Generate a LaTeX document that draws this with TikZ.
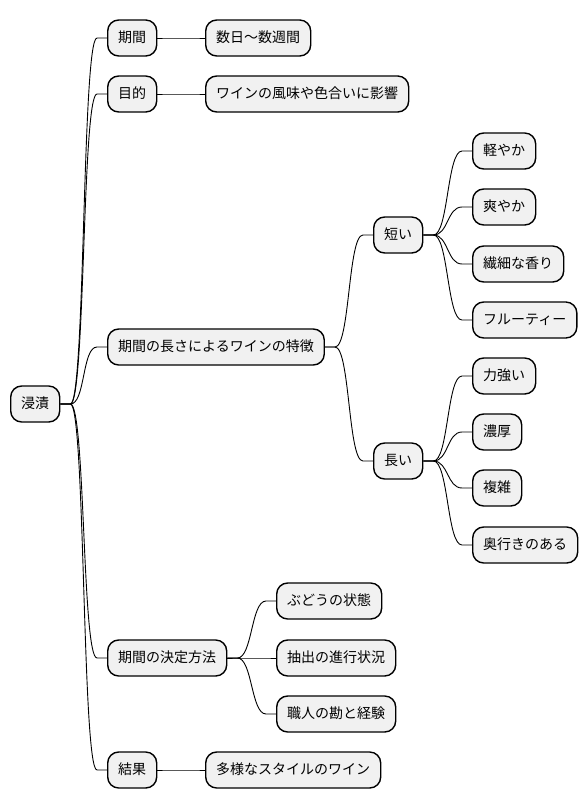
\documentclass[tikz,border=0pt]{standalone}
\usepackage{fontspec}
\setmainfont{Noto Sans CJK JP}
\usetikzlibrary{calc}
\tikzset{
  mmbox/.style={draw=black, line width=1.4pt, fill=boxgray, rounded corners=11pt,
    anchor=west, minimum height=36pt, inner xsep=10.5pt, inner ysep=0pt,
    text height=11pt, text depth=3pt, font=\fontsize{14}{16}\selectfont},
  mmline/.style={draw=black, line width=0.9pt}
}
\definecolor{boxgray}{HTML}{F1F1F1}
\newcommand\mmlink[2]{%
  \draw[mmline] (#1.east) -- ($(#1.east)+(10,0)$)
    .. controls +(15,0) and +(-15,0)
    .. ($(#2.west)+(-10,0)$) -- (#2.west);}
\begin{document}
\begin{tikzpicture}[x=1pt,y=-1pt]
\useasboundingbox[fill=white] (0,0) rectangle (586,809);
\node[mmbox] (root) at (10,404) {浸漬};
\node[mmbox] (kikan) at (107,38) {期間};
\node[mmbox] (suu) at (205,38) {数日〜数週間};
\node[mmbox] (mok) at (107,94) {目的};
\node[mmbox] (eik) at (205,94) {ワインの風味や色合いに影響};
\node[mmbox] (tok) at (107,347) {期間の長さによるワインの特徴};
\node[mmbox] (mij) at (373,235) {短い};
\node[mmbox] (kar) at (472,151) {軽やか};
\node[mmbox] (saw) at (472,207) {爽やか};
\node[mmbox] (sen) at (472,264) {繊細な香り};
\node[mmbox] (fru) at (472,320) {フルーティー};
\node[mmbox] (nag) at (373,461) {長い};
\node[mmbox] (chi) at (472,376) {力強い};
\node[mmbox] (nou) at (472,432) {濃厚};
\node[mmbox] (fuk) at (472,488) {複雑};
\node[mmbox] (oku) at (472,545) {奥行きのある};
\node[mmbox] (ket) at (107,658) {期間の決定方法};
\node[mmbox] (bud) at (276,601) {ぶどうの状態};
\node[mmbox] (chu) at (276,658) {抽出の進行状況};
\node[mmbox] (sho) at (276,714) {職人の勘と経験};
\node[mmbox] (kek) at (107,770) {結果};
\node[mmbox] (tay) at (205,770) {多様なスタイルのワイン};
\mmlink{root}{kikan}
\mmlink{root}{mok}
\mmlink{root}{tok}
\mmlink{root}{ket}
\mmlink{root}{kek}
\mmlink{kikan}{suu}
\mmlink{mok}{eik}
\mmlink{tok}{mij}
\mmlink{tok}{nag}
\mmlink{mij}{kar}
\mmlink{mij}{saw}
\mmlink{mij}{sen}
\mmlink{mij}{fru}
\mmlink{nag}{chi}
\mmlink{nag}{nou}
\mmlink{nag}{fuk}
\mmlink{nag}{oku}
\mmlink{ket}{bud}
\mmlink{ket}{chu}
\mmlink{ket}{sho}
\mmlink{kek}{tay}
\end{tikzpicture}
\end{document}
